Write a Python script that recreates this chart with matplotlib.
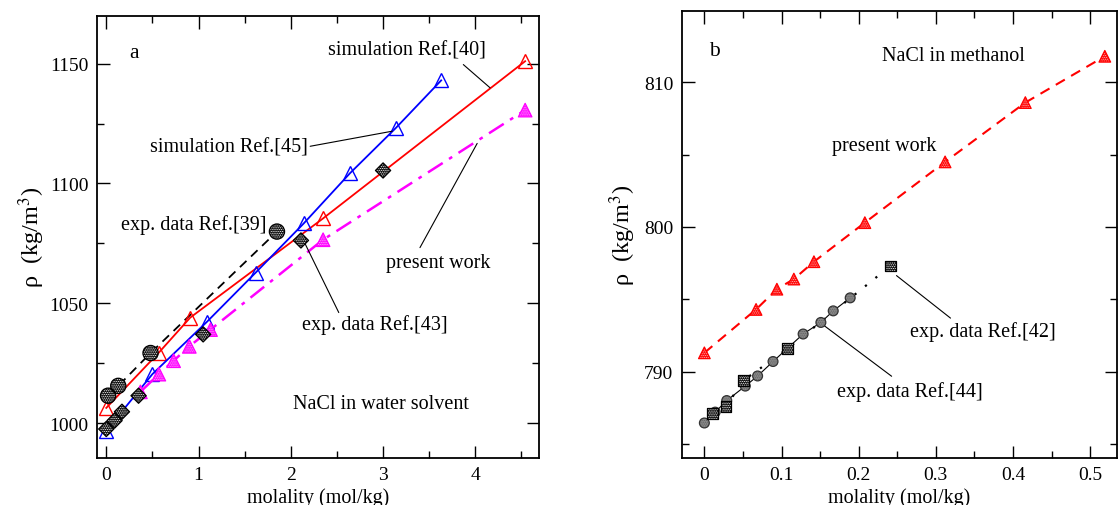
import numpy as np
import matplotlib
matplotlib.use('Agg')
from matplotlib import pyplot as plt

# Panel a: NaCl in water
sim40_m = [0, 0.57, 0.91, 2.35, 4.54]
sim40_rho = [1006.3, 1029.4, 1044.0, 1085.4, 1151.0]

sim45_m = [0, 0.50, 1.09, 1.62, 2.14, 2.64, 3.14, 3.63]
sim45_rho = [996.8, 1020.4, 1042.2, 1062.8, 1083.3, 1104.2, 1123.2, 1143.0]

pw_a_m = [0.37, 0.57, 0.73, 0.90, 1.13, 2.35, 4.54]
pw_a_rho = [1013.0, 1020.4, 1026.0, 1032.0, 1039.0, 1076.5, 1130.6]

exp39_m = [0.02, 0.13, 0.48, 1.85]
exp39_rho = [1011.4, 1015.5, 1029.2, 1079.9]

exp43_m = [0, 0.09, 0.17, 0.35, 1.05, 2.11, 3.00]
exp43_rho = [997.5, 1001.0, 1004.7, 1011.4, 1037.0, 1076.2, 1105.4]

# Panel b: NaCl in methanol
pw_b_m = [0, 0.067, 0.094, 0.116, 0.142, 0.208, 0.312, 0.416, 0.519]
pw_b_rho = [791.3, 794.3, 795.7, 796.4, 797.6, 800.3, 804.5, 808.6, 811.8]

exp44_m = [0, 0.014, 0.029, 0.053, 0.069, 0.089, 0.128, 0.151, 0.167, 0.189]
exp44_rho = [786.45, 787.2, 788.0, 789.0, 789.7, 790.7, 792.6, 793.4, 794.2, 795.1]

exp42_m = [0.011, 0.028, 0.051, 0.108, 0.241]
exp42_rho = [787.1, 787.6, 789.4, 791.6, 797.3]

plt.rcParams['font.family'] = ['Liberation Serif', 'DejaVu Serif']
plt.rcParams['mathtext.fontset'] = 'stix'
plt.rcParams['hatch.linewidth'] = 0.6
FS = 14.5


def hatched(ax, x, y, marker, s, face, dots, edge, z=5):
    # filled marker with a dotted pattern inside
    ax.scatter(x, y, marker=marker, s=s, facecolor=face, edgecolor=dots,
               linewidths=0, hatch='.........', zorder=z)
    ax.scatter(x, y, marker=marker, s=s, facecolor='none', edgecolor=edge,
               linewidths=0.9, zorder=z + 0.1)


def style_axes(ax):
    ax.tick_params(which='both', direction='in', top=True, right=True,
                   labelsize=14, pad=6)
    ax.tick_params(which='major', length=9, width=1.0)
    ax.tick_params(which='minor', length=5, width=1.0)
    for sp in ax.spines.values():
        sp.set_linewidth(1.3)


def leader(ax, start, end):
    ax.annotate('', xy=end, xytext=start,
                arrowprops=dict(arrowstyle='-', lw=0.8, color='black',
                                shrinkA=0, shrinkB=0))


fig = plt.figure(figsize=(11.18, 5.06), dpi=100)
ax1 = fig.add_axes([0.0868, 0.0929, 0.3953, 0.8741])
ax2 = fig.add_axes([0.6098, 0.0929, 0.3889, 0.8828])

# ---- panel a ----
ax1.plot(exp39_m, exp39_rho, color='black', lw=1.3, ls=(0, (5, 3.5)), zorder=2)
ax1.plot(sim40_m, sim40_rho, color='red', lw=1.3, marker='^', ms=10,
         mfc='none', mec='red', mew=1.0, zorder=3)
ax1.plot(sim45_m, sim45_rho, color='blue', lw=1.3, marker='^', ms=10,
         mfc='none', mec='blue', mew=1.0, zorder=3)
ax1.plot(pw_a_m, pw_a_rho, color='magenta', lw=1.8, ls=(0, (7, 3, 1.5, 3)),
         zorder=3)
hatched(ax1, pw_a_m, pw_a_rho, '^', 95, 'magenta', '#ffb0ff', 'magenta')
hatched(ax1, exp43_m, exp43_rho, 'D', 60, 'black', 'white', 'black', z=6)
hatched(ax1, exp39_m, exp39_rho, 'o', 120, 'black', 'white', 'black', z=6)

ax1.set_xlim(-0.1, 4.69)
ax1.set_ylim(985.4, 1170)
ax1.set_xticks([0, 1, 2, 3, 4])
ax1.set_xticks(np.arange(0, 4.6, 0.5), minor=True)
ax1.set_yticks([1000, 1050, 1100, 1150])
ax1.set_yticks(np.arange(1000, 1170, 25), minor=True)
style_axes(ax1)
ax1.set_xlabel('molality (mol/kg)', fontsize=FS, labelpad=3)
ax1.set_ylabel(r'ρ  (kg/m$^{3}$)', fontsize=17.5, labelpad=2)

ax1.text(0.25, 1154.5, 'a', fontsize=FS + 1, va='center')
ax1.text(2.40, 1155.5, 'simulation Ref.[40]', fontsize=FS, va='center')
leader(ax1, (3.87, 1149.6), (4.16, 1139.9))
ax1.text(2.19, 1115.2, 'simulation Ref.[45]', fontsize=FS, va='center',
         ha='right')
leader(ax1, (2.21, 1115.5), (3.10, 1121.8))
ax1.text(0.16, 1082.9, 'exp. data Ref.[39]', fontsize=FS, va='center')
ax1.text(3.03, 1067.0, 'present work', fontsize=FS, va='center')
leader(ax1, (3.40, 1073.2), (4.02, 1116.7))
ax1.text(2.12, 1041.3, 'exp. data Ref.[43]', fontsize=FS, va='center')
leader(ax1, (2.52, 1046.1), (2.14, 1076.0))
ax1.text(2.02, 1008.3, 'NaCl in water solvent', fontsize=FS, va='center')

# ---- panel b ----
ax2.plot(pw_b_m, pw_b_rho, color='red', lw=1.5, ls=(0, (5, 3.5)), zorder=3)
hatched(ax2, pw_b_m, pw_b_rho, '^', 70, 'red', '#ffb0b0', 'red')
ax2.plot(exp44_m, exp44_rho, color='black', lw=0.8, zorder=2)
ax2.plot(exp42_m, exp42_rho, color='black', lw=1.6, ls=(0, (1, 5)), zorder=2)
hatched(ax2, exp44_m, exp44_rho, 'o', 50, '#8c8c8c', '#5a5a5a', '#333333')
hatched(ax2, exp42_m, exp42_rho, 's', 60, 'black', 'white', 'black', z=6)

ax2.set_xlim(-0.0293, 0.5342)
ax2.set_ylim(784.03, 814.91)
ax2.set_xticks(np.arange(0, 0.51, 0.1))
ax2.set_xticklabels(['0', '0.1', '0.2', '0.3', '0.4', '0.5'])
ax2.set_xticks(np.arange(0, 0.53, 0.05), minor=True)
ax2.set_yticks([790, 800, 810])
ax2.set_yticks(np.arange(785, 815, 5), minor=True)
style_axes(ax2)
ax2.set_xlabel('molality (mol/kg)', fontsize=FS, labelpad=3)
ax2.set_ylabel(r'ρ  (kg/m$^{3}$)', fontsize=17.5, labelpad=4)

ax2.text(0.006, 812.2, 'b', fontsize=FS + 1, va='center')
ax2.text(0.2298, 811.83, 'NaCl in methanol', fontsize=FS, va='center')
ax2.text(0.165, 805.64, 'present work', fontsize=FS, va='center')
ax2.text(0.2665, 792.84, 'exp. data Ref.[42]', fontsize=FS, va='center')
leader(ax2, (0.249, 796.64), (0.319, 793.7))
ax2.text(0.172, 788.69, 'exp. data Ref.[44]', fontsize=FS, va='center')
leader(ax2, (0.154, 793.23), (0.2427, 789.68))

fig.savefig('out.png', dpi=100)
